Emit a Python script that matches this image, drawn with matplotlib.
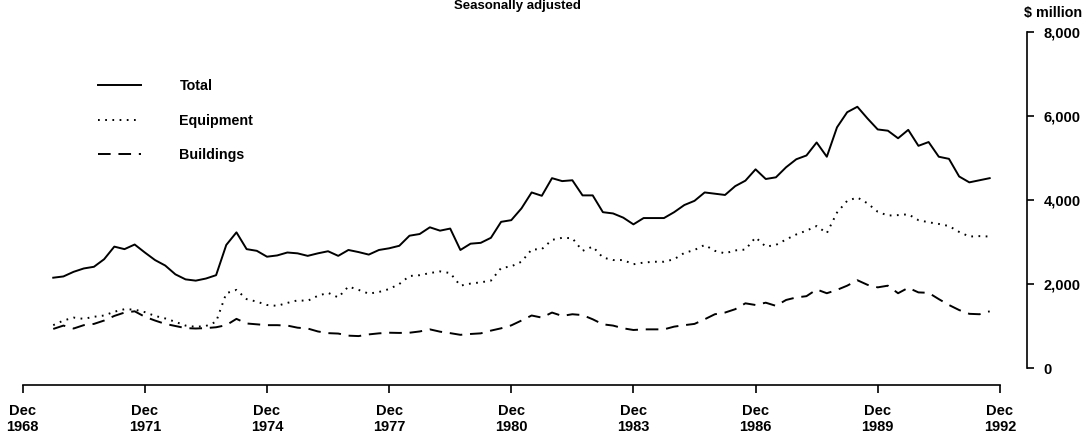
import numpy as np
import matplotlib
matplotlib.use("Agg")
import matplotlib.pyplot as plt

plt.rcParams['font.family'] = ['Liberation Sans', 'DejaVu Sans']

# quarterly, Sep 1969 .. Sep 1992 ($ million, seasonally adjusted)
total = [2150, 2180, 2290, 2370, 2410, 2590, 2890, 2830, 2940, 2750, 2570, 2440,
         2230, 2110, 2080, 2130, 2210, 2930, 3230, 2830, 2790, 2650, 2680, 2750,
         2730, 2670, 2730, 2780, 2670, 2810, 2760, 2700, 2810, 2850, 2910, 3150,
         3190, 3350, 3270, 3320, 2810, 2960, 2980, 3100, 3480, 3520, 3800, 4180,
         4100, 4520, 4450, 4470, 4110, 4110, 3710, 3680, 3580, 3420, 3570, 3570,
         3570, 3710, 3880, 3980, 4180, 4150, 4120, 4330, 4460, 4730, 4500, 4540,
         4780, 4970, 5060, 5370, 5030, 5730, 6090, 6220, 5940, 5680, 5650, 5470,
         5670, 5290, 5380, 5030, 4980, 4560, 4420, 4470, 4520]
equipment = [1020, 1130, 1200, 1170, 1220, 1250, 1340, 1400, 1390, 1330, 1240, 1180,
             1100, 1010, 980, 1000, 1100, 1780, 1860, 1640, 1580, 1500, 1480, 1550,
             1610, 1600, 1720, 1790, 1680, 1940, 1860, 1770, 1810, 1880, 2000, 2190,
             2210, 2260, 2300, 2260, 1960, 2010, 2040, 2080, 2380, 2420, 2530, 2820,
             2830, 3050, 3100, 3090, 2790, 2890, 2630, 2570, 2570, 2470, 2510, 2530,
             2530, 2590, 2740, 2810, 2930, 2790, 2730, 2800, 2820, 3110, 2890, 2930,
             3060, 3180, 3270, 3380, 3210, 3700, 3980, 4060, 3920, 3720, 3630, 3640,
             3660, 3520, 3470, 3430, 3380, 3240, 3130, 3140, 3130]
buildings = [930, 1010, 940, 1020, 1050, 1130, 1240, 1320, 1350, 1220, 1130, 1050,
             1000, 950, 940, 950, 970, 1020, 1170, 1060, 1040, 1020, 1020, 1010,
             960, 940, 870, 830, 820, 770, 760, 800, 825, 840, 835, 840,
             870, 920, 865, 830, 790, 810, 825, 890, 945, 1015, 1130, 1250,
             1200, 1320, 1240, 1280, 1260, 1160, 1040, 1010, 945, 905, 920, 920,
             920, 985, 1020, 1050, 1160, 1280, 1320, 1400, 1540, 1500, 1555, 1480,
             1620, 1680, 1710, 1870, 1780, 1860, 1960, 2090, 1980, 1920, 1960, 1780,
             1910, 1800, 1790, 1640, 1500, 1380, 1290, 1280, 1350]

tick_years = [1968, 1971, 1974, 1977, 1980, 1983, 1986, 1989, 1992]
y_ticks = [0, 2000, 4000, 6000, 8000]

# months after Dec 1968
months = 9 + 3 * np.arange(len(total))
tick_pos = [(y - 1968) * 12 for y in tick_years]

fig = plt.figure(figsize=(10.87, 4.41), dpi=100)
ax = fig.add_axes([22.7 / 1087, 1 - 368 / 441, 1004.3 / 1087, 336 / 441])

ax.plot(months, total, color='black', lw=1.4, label='Total')
ax.plot(months, equipment, color='black', lw=1.4, linestyle=(0, (0.9, 2.8)), label='Equipment')
ax.plot(months, buildings, color='black', lw=1.4, linestyle=(0, (6.5, 4)), label='Buildings')

ax.set_xlim(0, 296)
ax.set_ylim(0, 8000)

for s in ['left', 'top']:
    ax.spines[s].set_visible(False)
ax.spines['bottom'].set_position(('outward', 12))
ax.spines['bottom'].set_bounds(0, 288)
ax.spines['right'].set_bounds(0, 8000)
for s in ['bottom', 'right']:
    ax.spines[s].set_linewidth(1.2)

ax.set_xticks(tick_pos)
ax.set_xticklabels([f'Dec\n{y}' for y in tick_years], fontsize=10.5, fontweight='bold',
                   linespacing=1.15)
ax.set_yticks(y_ticks)
ax.set_yticklabels([f'{v:,}' for v in y_ticks], fontsize=10.5, fontweight='bold')
ax.yaxis.tick_right()
ax.tick_params(axis='x', direction='out', length=6, width=1.2, pad=8)
ax.tick_params(axis='y', direction='out', length=5, width=1.2, pad=7)

leg = ax.legend(loc='upper left', bbox_to_anchor=(85 / 1087, 1 - 66 / 441),
                bbox_transform=fig.transFigure, frameon=False, handlelength=3.0,
                handletextpad=2.7, labelspacing=1.45,
                prop={'size': 10.3, 'weight': 'bold'})

fig.text(1053 / 1087, 1 - 13 / 441, '$ million', ha='center', va='center',
         fontsize=10.3, fontweight='bold')
fig.text(517 / 1087, 1 - 0.5 / 441, 'Seasonally adjusted', ha='center', va='top',
         fontsize=9.5, fontweight='bold')

fig.savefig('out.png', dpi=100)
